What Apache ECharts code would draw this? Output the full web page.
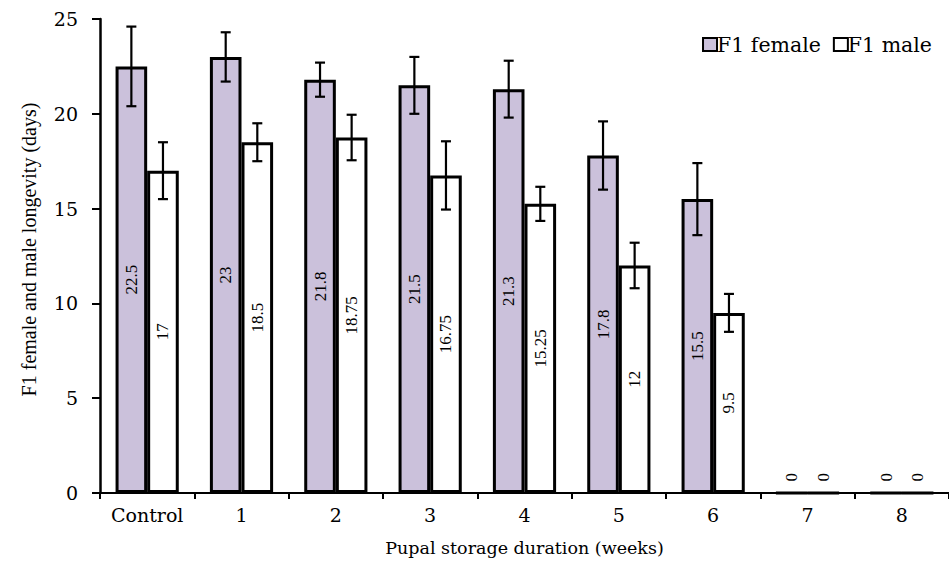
<!DOCTYPE html>
<html>
<head>
<meta charset="utf-8">
<script src="https://cdn.jsdelivr.net/npm/echarts@6/dist/echarts.min.js"></script>
<style>
  html, body { margin: 0; padding: 0; background: #fff; }
  #chart { width: 949px; height: 572px; }
</style>
</head>
<body>
<div id="chart"></div>
<script>
// Pupal storage duration categories
const categories = ['Control', '1', '2', '3', '4', '5', '6', '7', '8'];
// Mean longevity (days)
const femaleMeans = [22.5, 23, 21.8, 21.5, 21.3, 17.8, 15.5, 0, 0];
const maleMeans = [17, 18.5, 18.75, 16.75, 15.25, 12, 9.5, 0, 0];
// Error (± days)
const femaleErr = [2.1, 1.3, 0.9, 1.5, 1.5, 1.8, 1.9, 0, 0];
const maleErr = [1.5, 1.0, 1.2, 1.8, 0.9, 1.2, 1.0, 0, 0];
const yTicks = [0, 5, 10, 15, 20, 25];

const SERIF = '"Liberation Serif", "Times New Roman", serif';
const WIDE_SERIF = '"DejaVu Serif", "Liberation Serif", serif';
const BAR_FRAC = 0.335;

function barData(values) {
  return values.map(v => {
    if (v === 0) {
      return {
        value: v,
        label: { position: 'top', distance: 10, align: 'left', verticalAlign: 'middle' }
      };
    }
    return { value: v };
  });
}

// Error bars drawn at each bar's centre; side = -1 for the left bar, +1 for the right one
function errorSeries(means, errs, side) {
  return {
    type: 'custom',
    silent: true,
    z: 10,
    data: means.map((m, i) => [i, m, errs[i]]),
    renderItem: function (params, api) {
      const idx = api.value(0);
      const m = api.value(1);
      const e = api.value(2);
      if (!e) return null;
      const catW = api.size([1, 0])[0];
      const bw = catW * BAR_FRAC;
      const c = api.coord([idx, m]);
      const x = c[0] + side * bw / 2;
      const top = api.coord([idx, m + e])[1];
      const bot = api.coord([idx, m - e])[1];
      const cap = 5;
      const style = { stroke: '#000', lineWidth: 2.2 };
      return {
        type: 'group',
        children: [
          { type: 'line', shape: { x1: x, y1: top, x2: x, y2: bot }, style: style },
          { type: 'line', shape: { x1: x - cap, y1: top, x2: x + cap, y2: top }, style: style },
          { type: 'line', shape: { x1: x - cap, y1: bot, x2: x + cap, y2: bot }, style: style }
        ]
      };
    }
  };
}

const barLabel = {
  show: true,
  position: 'inside',
  rotate: 90,
  fontFamily: SERIF,
  fontSize: 17,
  color: '#000'
};

const chart = echarts.init(document.getElementById('chart'), null, { renderer: 'svg' });
chart.setOption({
  animation: false,
  backgroundColor: '#fff',
  textStyle: { fontFamily: SERIF },
  grid: { left: 100, right: -5, top: 19, bottom: 79, containLabel: false },
  legend: {
    data: ['F1 female', 'F1 male'],
    icon: 'rect',
    right: 12,
    top: 29,
    itemWidth: 14,
    itemHeight: 13,
    itemGap: 12,
    textStyle: { fontFamily: WIDE_SERIF, fontSize: 20.5, color: '#000', padding: [0, 0, 0, -5] }
  },
  xAxis: {
    type: 'category',
    data: categories,
    name: 'Pupal storage duration (weeks)',
    nameLocation: 'middle',
    nameGap: 46,
    nameTextStyle: { fontFamily: WIDE_SERIF, fontSize: 17.5, color: '#000' },
    axisLine: { lineStyle: { color: '#000', width: 2.2 } },
    axisTick: { show: true, length: 6, lineStyle: { color: '#000', width: 2 } },
    axisLabel: { fontFamily: WIDE_SERIF, fontSize: 19, color: '#000', margin: 12 }
  },
  yAxis: {
    type: 'value',
    min: yTicks[0],
    max: yTicks[yTicks.length - 1],
    interval: 5,
    name: 'F1 female and male longevity (days)',
    nameLocation: 'middle',
    nameGap: 61,
    nameTextStyle: { fontFamily: SERIF, fontSize: 20, color: '#000', padding: [0, 0, 0, 13] },
    splitLine: { show: false },
    axisLine: { show: true, lineStyle: { color: '#000', width: 2.5 } },
    axisTick: { show: true, length: 8, lineStyle: { color: '#000', width: 2 } },
    axisLabel: { fontFamily: WIDE_SERIF, fontSize: 19, color: '#000', margin: 22 }
  },
  series: [
    {
      name: 'F1 female',
      type: 'bar',
      barWidth: (BAR_FRAC * 100) + '%',
      barGap: '0%',
      data: barData(femaleMeans),
      itemStyle: { color: '#CBC1DB', borderColor: '#000', borderWidth: 3 },
      label: barLabel
    },
    {
      name: 'F1 male',
      type: 'bar',
      barWidth: (BAR_FRAC * 100) + '%',
      barGap: '0%',
      data: barData(maleMeans),
      itemStyle: { color: '#FFFFFF', borderColor: '#000', borderWidth: 3 },
      label: barLabel
    },
    errorSeries(femaleMeans, femaleErr, -1),
    errorSeries(maleMeans, maleErr, 1)
  ]
});
</script>
</body>
</html>
